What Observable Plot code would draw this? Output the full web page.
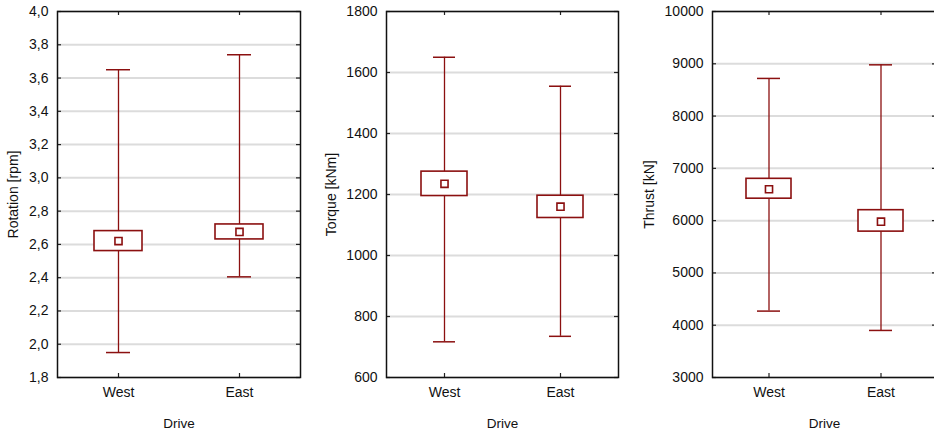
<!DOCTYPE html>
<html>
<head>
<meta charset="utf-8">
<script src="https://cdn.jsdelivr.net/npm/d3@7"></script>
<script src="https://cdn.jsdelivr.net/npm/@observablehq/plot@0.6"></script>
<style>
  html, body { margin: 0; padding: 0; background: #fff; overflow: hidden; width: 934px; height: 430px; }
  #row { display: flex; flex-direction: row; width: 940px; }
  #row svg { display: block; flex: none; }
</style>
</head>
<body>
<div id="row"></div>
<script>
// ---- data ----
const drives = ["West", "East"];
const xLabel = "Drive";

const rotationLabel = "Rotation [rpm]";
const rotationTicks = [1.8, 2.0, 2.2, 2.4, 2.6, 2.8, 3.0, 3.2, 3.4, 3.6, 3.8, 4.0];
const rotationMean = [2.62, 2.675];
const rotationBoxLow = [2.56, 2.63];
const rotationBoxHigh = [2.68, 2.72];
const rotationMin = [1.95, 2.405];
const rotationMax = [3.65, 3.74];

const torqueLabel = "Torque [kNm]";
const torqueTicks = [600, 800, 1000, 1200, 1400, 1600, 1800];
const torqueMean = [1235, 1160];
const torqueBoxLow = [1195, 1123];
const torqueBoxHigh = [1275, 1196];
const torqueMin = [717, 735];
const torqueMax = [1650, 1555];

const thrustLabel = "Thrust [kN]";
const thrustTicks = [3000, 4000, 5000, 6000, 7000, 8000, 9000, 10000];
const thrustMean = [6600, 5980];
const thrustBoxLow = [6420, 5790];
const thrustBoxHigh = [6800, 6200];
const thrustMin = [4270, 3900];
const thrustMax = [8720, 8980];

// ---- build ----
const RED = "#8b1010";
const H = 430, MT = 11, MB = 53;
const frameH = H - MT - MB;

function rows(mean, lo, hi, mn, mx) {
  return drives.map((d, i) => ({drive: d, mean: mean[i], lo: lo[i], hi: hi[i], min: mn[i], max: mx[i]}));
}

function panel({label, ticks, data, fmt, width, marginLeft, marginRight, labelOffset}) {
  const frameW = width - marginLeft - marginRight;
  const capInset = Math.round(frameW * 0.05);
  return Plot.plot({
    width, height: H,
    marginTop: MT, marginBottom: MB, marginLeft, marginRight,
    style: {fontFamily: "Liberation Sans, Arial, sans-serif", background: "white", color: "#111"},
    x: {domain: drives, type: "band", paddingInner: 0.6, paddingOuter: 0.3, axis: null},
    y: {domain: [ticks[0], ticks[ticks.length - 1]], axis: null},
    marks: [
      Plot.gridY(ticks, {stroke: "#dcdcdc", strokeWidth: 2, strokeOpacity: 1}),
      Plot.axisY(ticks, {tickSize: 0, tickPadding: 9, fontSize: 14, tickFormat: fmt, label: null}),
      Plot.axisX(drives, {tickSize: 0, tickPadding: 10, fontSize: 14, label: null}),
      // inner tick marks
      Plot.tickY(ticks, {y: d => d, stroke: "#222", strokeWidth: 1.2, insetRight: frameW - 4}),
      Plot.tickY(ticks, {y: d => d, stroke: "#222", strokeWidth: 1.2, insetLeft: frameW - 4}),
      Plot.ruleX(drives, {x: d => d, stroke: "#222", strokeWidth: 1.2, insetBottom: frameH - 4}),
      Plot.ruleX(drives, {x: d => d, stroke: "#222", strokeWidth: 1.2, insetTop: frameH - 4}),
      // whiskers
      Plot.ruleX(data, {x: "drive", y1: "min", y2: "max", stroke: RED, strokeWidth: 1.3}),
      Plot.tickY(data, {x: "drive", y: "min", stroke: RED, strokeWidth: 1.5, insetLeft: capInset, insetRight: capInset}),
      Plot.tickY(data, {x: "drive", y: "max", stroke: RED, strokeWidth: 1.5, insetLeft: capInset, insetRight: capInset}),
      // box
      Plot.barY(data, {x: "drive", y1: "lo", y2: "hi", fill: "white", stroke: RED, strokeWidth: 1.6}),
      // mean
      Plot.dot(data, {x: "drive", y: "mean", symbol: "square", r: 4, fill: "white", stroke: RED, strokeWidth: 1.6}),
      Plot.frame({stroke: "#111", strokeWidth: 1.5}),
      // axis titles
      Plot.text([label], {frameAnchor: "left", text: d => d, rotate: -90, dx: -labelOffset, fontSize: 14, textAnchor: "middle", lineAnchor: "middle", fill: "#111"}),
      Plot.text([xLabel], {frameAnchor: "bottom", text: d => d, dy: 50, fontSize: 13.5, lineAnchor: "bottom", fill: "#111"})
    ]
  });
}

const commaFmt = d => d3.format(".1f")(d).replace(".", ",");
const intFmt = d => String(d);

const row = document.getElementById("row");
row.append(panel({
  label: rotationLabel, ticks: rotationTicks, fmt: commaFmt,
  data: rows(rotationMean, rotationBoxLow, rotationBoxHigh, rotationMin, rotationMax),
  width: 310, marginLeft: 57, marginRight: 10, labelOffset: 44
}));
row.append(panel({
  label: torqueLabel, ticks: torqueTicks, fmt: intFmt,
  data: rows(torqueMean, torqueBoxLow, torqueBoxHigh, torqueMin, torqueMax),
  width: 310, marginLeft: 76, marginRight: 2, labelOffset: 55
}));
row.append(panel({
  label: thrustLabel, ticks: thrustTicks, fmt: intFmt,
  data: rows(thrustMean, thrustBoxLow, thrustBoxHigh, thrustMin, thrustMax),
  width: 318, marginLeft: 92, marginRight: 2, labelOffset: 63
}));
</script>
</body>
</html>
